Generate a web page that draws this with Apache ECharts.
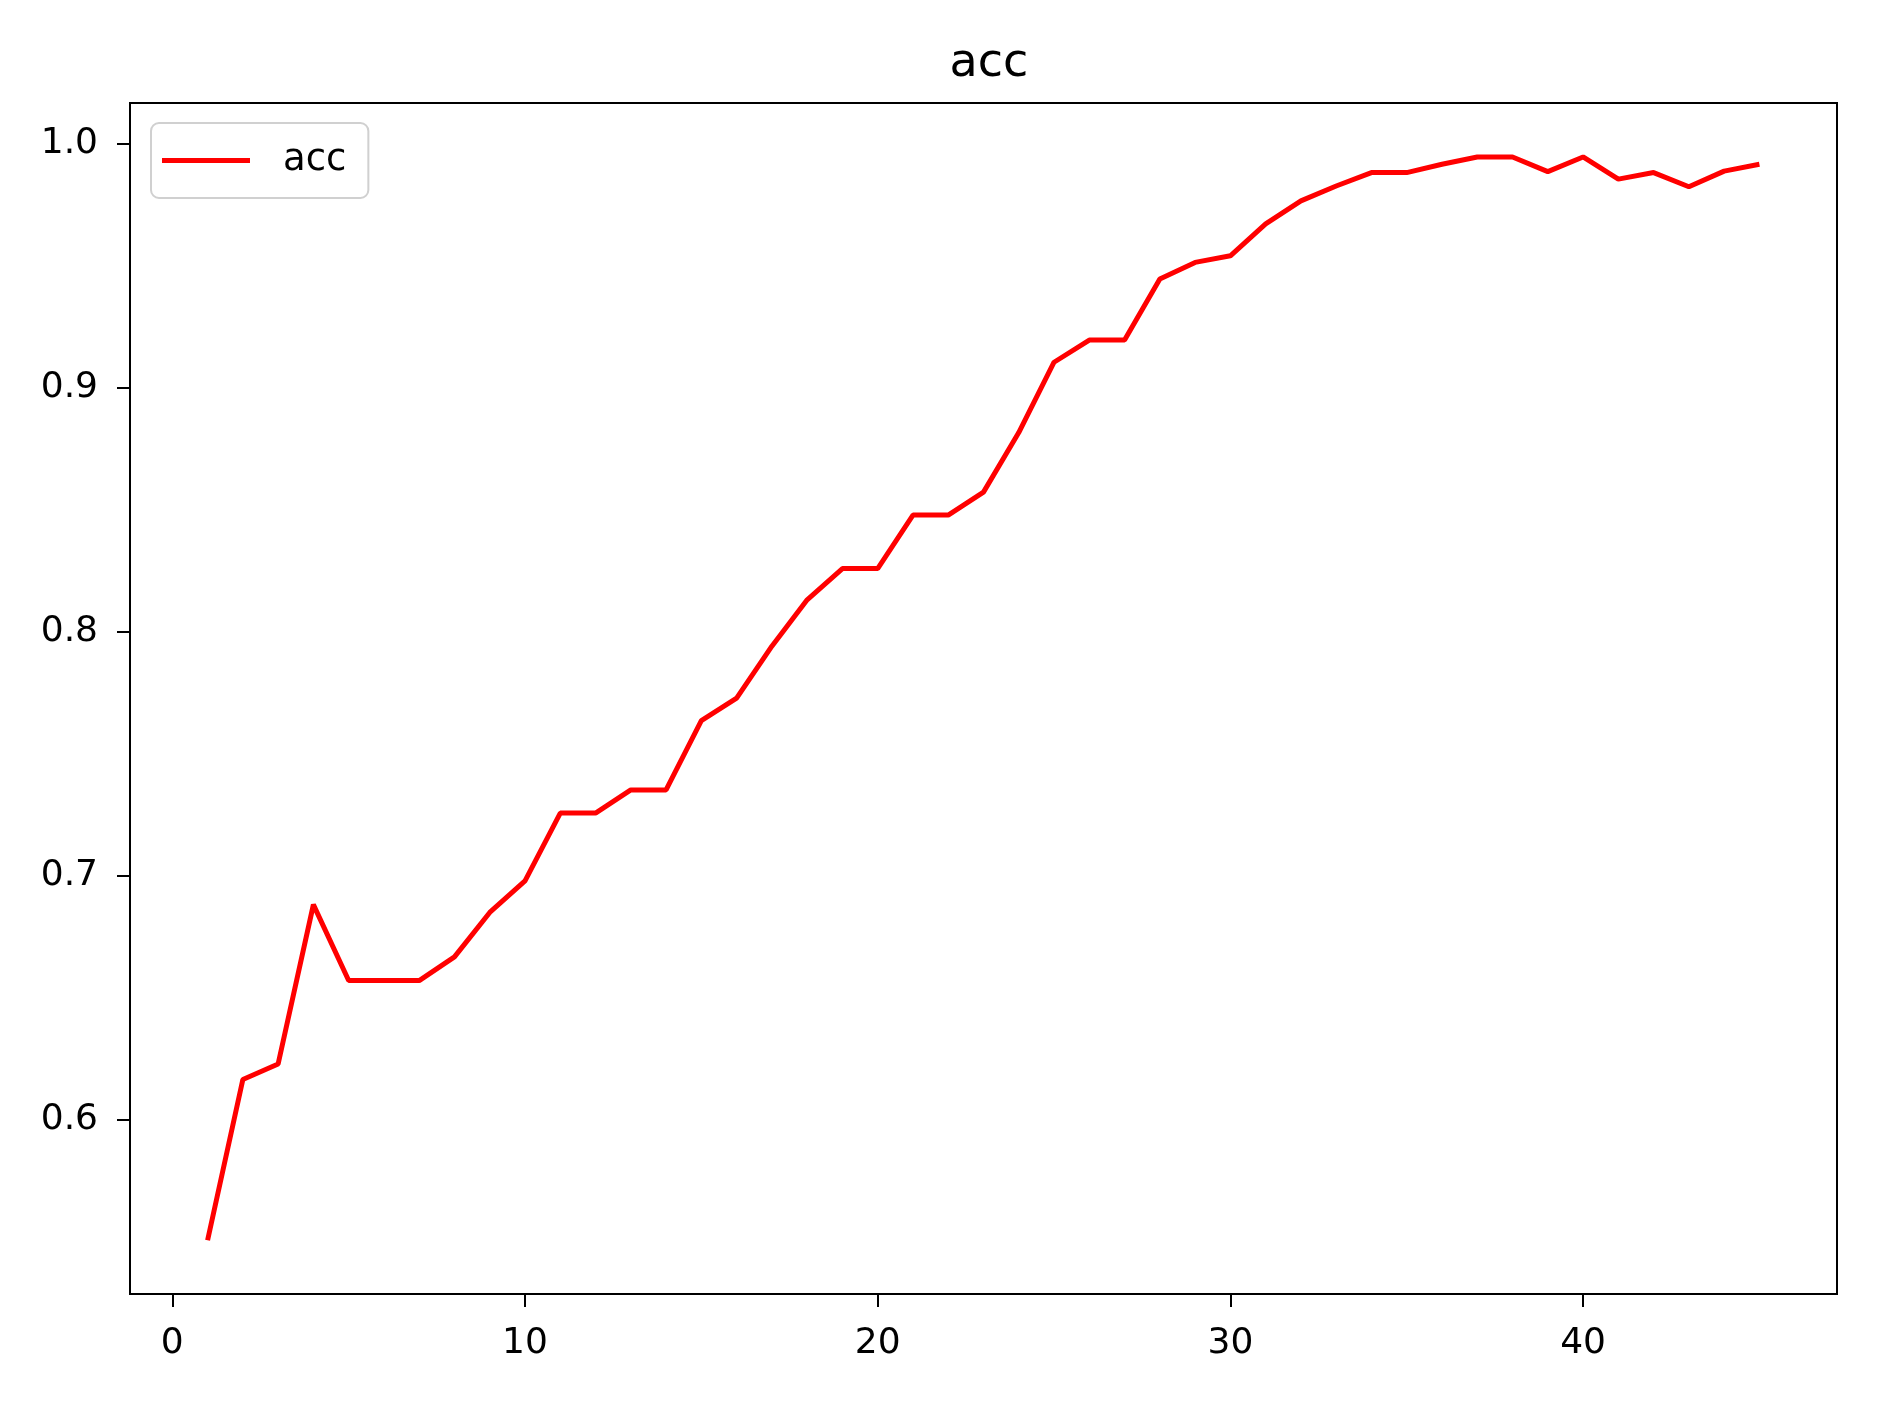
<!DOCTYPE html>
<html>
<head>
<meta charset="utf-8">
<title>acc</title>
<script src="https://cdn.jsdelivr.net/npm/echarts@6/dist/echarts.min.js"></script>
<style>
  html, body { margin: 0; padding: 0; background: #fff; }
  #chart { width: 1877px; height: 1402px; }
</style>
</head>
<body>
<div id="chart"></div>
<script>
// epochs 1..45
const epochs = [];
for (let i = 1; i <= 45; i++) epochs.push(i);

// accuracy per epoch
const acc = [
  0.5506, 0.6165, 0.6228, 0.6881, 0.6570, 0.6570, 0.6570, 0.6667, 0.6849, 0.6978,
  0.7256, 0.7256, 0.7351, 0.7351, 0.7635, 0.7727, 0.7940, 0.8130, 0.8258, 0.8258,
  0.8477, 0.8477, 0.8571, 0.8815, 0.9103, 0.9194, 0.9194, 0.9444, 0.9512, 0.9539,
  0.9670, 0.9764, 0.9825, 0.9880, 0.9880, 0.9914, 0.9944, 0.9944, 0.9884, 0.9944,
  0.9853, 0.9880, 0.9822, 0.9886, 0.9914
];

const xTicks = [0, 10, 20, 30, 40];
const yTicks = [0.6, 0.7, 0.8, 0.9, 1.0];

const chart = echarts.init(document.getElementById("chart"));

const font = "DejaVu Sans";

const option = {
  animation: false,
  backgroundColor: "#fff",
  title: {
    text: "acc",
    left: 984,
    top: 36,
    textAlign: "center",
    textStyle: {
      fontFamily: font,
      fontSize: 46,
      fontWeight: "normal",
      color: "#000",
    },
  },
  legend: {
    data: [{ name: "acc", icon: "rect" }],
    left: 151,
    top: 123,
    itemWidth: 88,
    itemHeight: 5,
    padding: [19, 22, 19, 11],
    borderColor: "#d0d0d0",
    borderWidth: 2,
    borderRadius: 8,
    textStyle: {
      fontFamily: font,
      fontSize: 37,
      color: "#000",
      padding: [0, 0, 0, 28],
    },
  },
  grid: {
    left: 130,
    right: 40,
    top: 103,
    bottom: 108,
    show: true,
    borderColor: "#000",
    borderWidth: 2,
  },
  xAxis: {
    type: "value",
    min: -1.2,
    max: 47.2,
    splitLine: { show: false },
    axisLine: { show: false, onZero: false },
    axisTick: {
      show: true,
      length: 13,
      customValues: xTicks,
      lineStyle: { color: "#000", width: 2 },
    },
    axisLabel: {
      customValues: xTicks,
      margin: 32,
      fontFamily: font,
      fontSize: 36,
      color: "#000",
    },
  },
  yAxis: {
    type: "value",
    min: 0.5286,
    max: 1.0165,
    splitLine: { show: false },
    axisLine: { show: false, onZero: false },
    axisTick: {
      show: true,
      length: 13,
      customValues: yTicks,
      lineStyle: { color: "#000", width: 2 },
    },
    axisLabel: {
      customValues: yTicks,
      margin: 32,
      fontFamily: font,
      fontSize: 36,
      color: "#000",
      formatter: (v) => v.toFixed(1),
    },
  },
  series: [
    {
      name: "acc",
      type: "line",
      data: epochs.map((e, i) => [e, acc[i]]),
      showSymbol: false,
      color: "#ff0000",
      lineStyle: { color: "#ff0000", width: 5 },
    },
  ],
};

chart.setOption(option);
</script>
</body>
</html>
